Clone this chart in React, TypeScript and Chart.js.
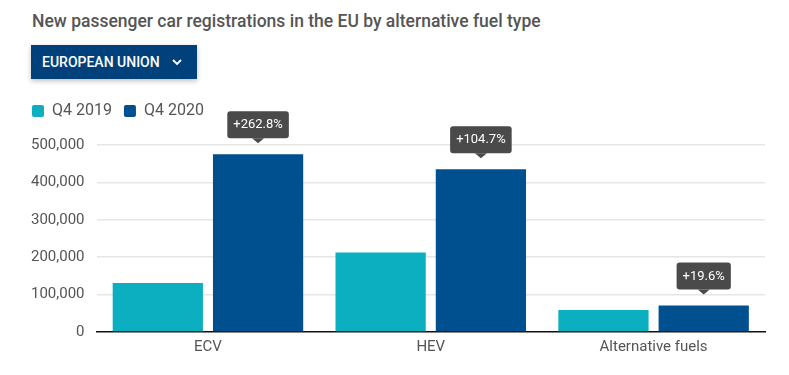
import React, { useEffect, useRef } from "react";
import { Chart, registerables } from "chart.js";

Chart.register(...registerables);

const categories = ["ECV", "HEV", "Alternative fuels"];
const seriesNames = ["Q4 2019", "Q4 2020"];
const q4_2019 = [131000, 212600, 59000];
const q4_2020 = [475300, 435200, 70600];
const changeLabels = ["+262.8%", "+104.7%", "+19.6%"];
const yTicks = [0, 100000, 200000, 300000, 400000, 500000];

const FONT = "Roboto, 'Noto Sans', sans-serif";

const legendGap = {
  id: "legendGap",
  beforeInit(chart: any) {
    const legend = chart.legend;
    if (!legend) return;
    const orig = legend.fit;
    legend.fit = function () {
      orig.bind(legend)();
      this.height += 16;
    };
  },
  afterLayout(chart: any) {
    const legend = chart.legend;
    if (!legend) return;
    legend.left += 1;
    legend.right += 1;
  },
};

const changePlugin = {
  id: "changeLabels",
  afterDatasetsDraw(chart: any) {
    const meta = chart.getDatasetMeta(1);
    const ctx = chart.ctx;
    ctx.save();
    ctx.font = `400 13px ${FONT}`;
    meta.data.forEach((bar: any, i: number) => {
      const text = changeLabels[i];
      const tw = ctx.measureText(text).width;
      const w = tw + 12;
      const h = 27;
      const x = bar.x;
      const bottom = bar.y - 16;
      const top = bottom - h;
      ctx.fillStyle = "#4a4a4a";
      ctx.beginPath();
      ctx.roundRect(x - w / 2, top, w, h, 3);
      ctx.fill();
      ctx.beginPath();
      ctx.moveTo(x - 6, bottom);
      ctx.lineTo(x + 6, bottom);
      ctx.lineTo(x, bottom + 5);
      ctx.closePath();
      ctx.fill();
      ctx.fillStyle = "#ffffff";
      ctx.textAlign = "center";
      ctx.textBaseline = "middle";
      ctx.fillText(text, x, top + h / 2 + 0.5);
    });
    ctx.restore();
  },
};

export default function App() {
  const ref = useRef<HTMLCanvasElement | null>(null);

  useEffect(() => {
    document.body.style.margin = "0";
    const chart = new Chart(ref.current as HTMLCanvasElement, {
      type: "bar",
      data: {
        labels: categories,
        datasets: [
          {
            label: seriesNames[0],
            data: q4_2019,
            backgroundColor: "#0bafc0",
            categoryPercentage: 0.9,
            barPercentage: 0.9,
          },
          {
            label: seriesNames[1],
            data: q4_2020,
            backgroundColor: "#00508f",
            categoryPercentage: 0.9,
            barPercentage: 0.9,
          },
        ],
      },
      options: {
        animation: false,
        responsive: false,
        maintainAspectRatio: false,
        layout: { padding: { top: 91, left: 19, right: 24, bottom: 13 } },
        plugins: {
          legend: {
            position: "top",
            align: "start",
            labels: {
              boxWidth: 12,
              boxHeight: 12,
              useBorderRadius: true,
              borderRadius: 2,
              color: "#555555",
              font: { family: FONT, size: 16 },
              padding: 12,
            },
          },
          tooltip: { enabled: false },
        },
        scales: {
          x: {
            grid: { display: false, drawTicks: false },
            border: { display: true, color: "#111111", width: 1.5 },
            ticks: {
              color: "#555555",
              font: { family: FONT, size: 15 },
              padding: 6,
            },
          },
          y: {
            min: 0,
            max: 500000,
            afterBuildTicks: (scale: any) => {
              scale.ticks = yTicks.map((v) => ({ value: v }));
            },
            border: { display: false },
            grid: {
              color: (c: any) => (c.tick && c.tick.value === 0 ? "rgba(0,0,0,0)" : "#e6e6e6"),
              lineWidth: 1.5,
              drawTicks: false,
            },
            ticks: {
              color: "#555555",
              font: { family: FONT, size: 15 },
              padding: 12,
              callback: (v: any) => Number(v).toLocaleString("en-US"),
            },
          },
        },
      },
      plugins: [legendGap, changePlugin],
    });
    return () => chart.destroy();
  }, []);

  return (
    <div style={{ position: "relative", width: 789, height: 375, background: "#fff", fontFamily: FONT }}>
      <div
        style={{
          position: "absolute",
          left: 32,
          top: 11,
          fontSize: 17.5,
          fontWeight: 500,
          color: "#555555",
          whiteSpace: "nowrap",
        }}
      >
        New passenger car registrations in the EU by alternative fuel type
      </div>
      <div
        style={{
          position: "absolute",
          left: 31,
          top: 45,
          width: 166,
          height: 34,
          background: "#00417c",
          boxShadow: "0 2px 5px rgba(0,0,0,0.25)",
          color: "#fff",
          fontSize: 14,
          fontWeight: 500,
          display: "flex",
          alignItems: "center",
          boxSizing: "border-box",
          paddingLeft: 11,
          whiteSpace: "nowrap",
        }}
      >
        <span>EUROPEAN UNION</span>
        <svg width="10" height="7" viewBox="0 0 10 7" style={{ marginLeft: 12 }}>
          <path d="M1 1 L5 5 L9 1" stroke="#fff" strokeWidth="1.8" fill="none" />
        </svg>
      </div>
      <canvas
        ref={ref}
        width={789}
        height={375}
        style={{ position: "absolute", left: 0, top: 0, width: 789, height: 375 }}
      />
    </div>
  );
}
